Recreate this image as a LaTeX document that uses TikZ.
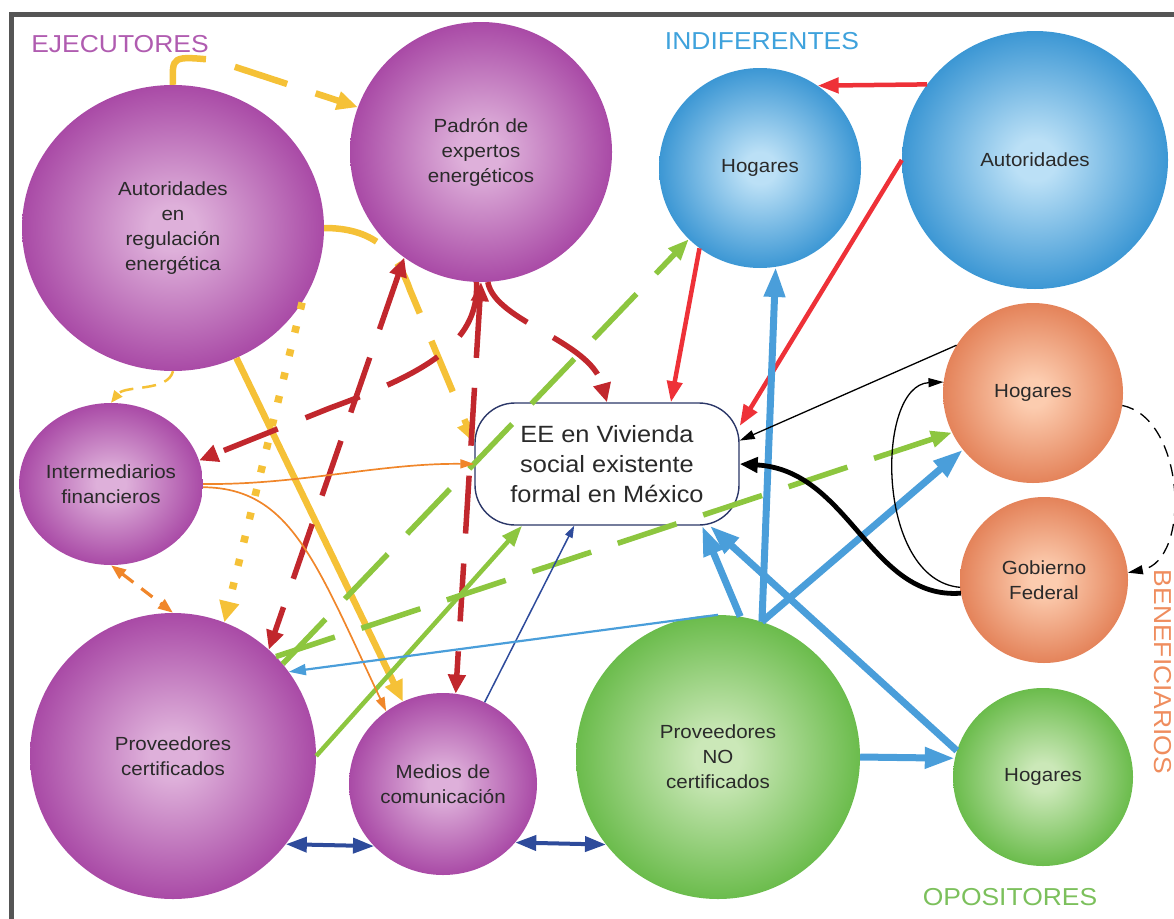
\documentclass[tikz,border=0pt]{standalone}
\usepackage{fontspec}
\setmainfont{Liberation Sans}[FakeStretch=1.08]
\usetikzlibrary{
    arrows.meta,
    shapes.geometric
}
\definecolor{ejePurple}{HTML}{A94AA6}
\definecolor{ejeLight}{HTML}{DEB0DA}
\definecolor{indBlue}{HTML}{3C97D4}
\definecolor{indLight}{HTML}{BBE0F6}
\definecolor{benOrange}{HTML}{E4835A}
\definecolor{benLight}{HTML}{FCCCAF}
\definecolor{opoGreen}{HTML}{6BBC4C}
\definecolor{opoLight}{HTML}{CBE8B8}
\definecolor{lineGold}{HTML}{F5C137}
\definecolor{lineRed}{HTML}{C1272D}
\definecolor{lineScarlet}{HTML}{EE3138}
\definecolor{lineGreen}{HTML}{8DC63F}
\definecolor{lineBlue}{HTML}{4A9EDA}
\definecolor{lineNavy}{HTML}{2E4B9B}
\definecolor{lineOrange}{HTML}{F0862A}
\definecolor{boxNavy}{HTML}{2B3768}
\definecolor{textGray}{HTML}{2A2A2A}
\definecolor{frameGray}{HTML}{555555}
\definecolor{labPurple}{HTML}{B05CB0}
\definecolor{labBlue}{HTML}{3FA2DC}
\definecolor{labOrange}{HTML}{EF8D5E}
\definecolor{labGreen}{HTML}{7CC05C}
% Orb shadings
\pgfdeclareradialshading{ejeorb}{\pgfpoint{0bp}{0bp}}{color(0bp)=(ejeLight); color(4bp)=(ejeLight); color(25bp)=(ejePurple); color(50bp)=(ejePurple)}
\pgfdeclareradialshading{indorb}{\pgfpoint{0bp}{0bp}}{color(0bp)=(indLight); color(4bp)=(indLight); color(25bp)=(indBlue); color(50bp)=(indBlue)}
\pgfdeclareradialshading{benorb}{\pgfpoint{0bp}{0bp}}{color(0bp)=(benLight); color(4bp)=(benLight); color(25bp)=(benOrange); color(50bp)=(benOrange)}
\pgfdeclareradialshading{opoorb}{\pgfpoint{0bp}{0bp}}{color(0bp)=(opoLight); color(4bp)=(opoLight); color(25bp)=(opoGreen); color(50bp)=(opoGreen)}
\tikzset{
    % Circle styles
    orb/.style={
        ellipse,
        inner sep=0pt,
        align=center,
        text=textGray,
        font=\fontsize{19}{25}\selectfont
    },
    orb size/.style 2 args={
        minimum width=#1pt,
        minimum height=#2pt
    },
    ejecutor/.style={orb, shading=ejeorb},
    indiferente/.style={orb, shading=indorb},
    beneficiario/.style={orb, shading=benorb},
    opositor/.style={orb, shading=opoorb},
    % Box styles
    center box/.style={
        draw=boxNavy,
        fill=white,
        line width=1.4pt,
        rounded corners=40pt,
        minimum width=264pt,
        minimum height=122pt,
        align=center,
        text=textGray,
        font=\fontsize{23.5}{30}\selectfont
    },
    group label/.style={
        font=\fontsize{24.5}{28}\selectfont
    },
    frame line/.style={
        frameGray,
        line width=5pt
    },
    % Arrow styles
    gold dash/.style={
        lineGold,
        line width=6.5pt,
        dash pattern=on 55pt off 30pt,
        -{Triangle[length=21pt,width=18pt]}
    },
    gold line/.style={
        lineGold,
        line width=6.5pt,
        -{Triangle[length=21pt,width=18pt]}
    },
    gold dots/.style={
        lineGold,
        line width=7.5pt,
        dash pattern=on 7pt off 17pt,
        -{Triangle[length=21pt,width=19pt]}
    },
    gold thin/.style={
        lineGold,
        line width=2.5pt,
        dash pattern=on 14pt off 9pt,
        -{Triangle[length=12pt,width=10pt]}
    },
    red dash/.style={
        lineRed,
        line width=5.5pt,
        dash pattern=on 58pt off 30pt,
        -{Triangle[length=19pt,width=17pt]}
    },
    red both/.style={
        red dash,
        {Triangle[length=19pt,width=17pt]}-{Triangle[length=19pt,width=17pt]}
    },
    scarlet line/.style={
        lineScarlet,
        line width=4.5pt,
        -{Triangle[length=21pt,width=15pt]}
    },
    green dash/.style={
        lineGreen,
        line width=5.5pt,
        dash pattern=on 62pt off 28pt,
        -{Triangle[length=21pt,width=16pt]}
    },
    green line/.style={
        lineGreen,
        line width=4.5pt,
        -{Triangle[length=21pt,width=15pt]}
    },
    blue line/.style={
        lineBlue,
        line width=7pt,
        -{Triangle[length=30pt,width=20pt]}
    },
    blue thin/.style={
        lineBlue,
        line width=2.2pt,
        -{Triangle[length=17pt,width=11pt]}
    },
    navy thin/.style={
        lineNavy,
        line width=1.5pt,
        -{Triangle[length=12pt,width=8pt]}
    },
    navy both/.style={
        lineNavy,
        line width=4pt,
        {Triangle[length=21pt,width=15pt]}-{Triangle[length=21pt,width=15pt]}
    },
    orange thin/.style={
        lineOrange,
        line width=1.7pt,
        -{Triangle[length=14pt,width=9pt]}
    },
    orange both/.style={
        lineOrange,
        line width=3.2pt,
        dash pattern=on 14pt off 10pt,
        {Triangle[length=15pt,width=11pt]}-{Triangle[length=15pt,width=11pt]}
    },
    black thin/.style={
        black,
        line width=1.3pt,
        -{Triangle[length=15pt,width=9pt]}
    },
    black thick/.style={
        black,
        line width=4.8pt,
        -{Triangle[length=18pt,width=15pt]}
    },
    black dash/.style={
        black thin,
        dash pattern=on 12pt off 8pt
    }
}

\begin{document}
\begin{tikzpicture}[x=1pt, y=-1pt]
        \useasboundingbox (0,0) rectangle (1174,918);
        \clip (0,0) rectangle (1174,918);
        \draw[frame line] (11,940) -- (11,14.5) -- (1190,14.5);

        % Group labels
        \node[group label, labPurple] (ejeLab) at (120,44) {EJECUTORES};
        \node[group label, labBlue] (indLab) at (762,41) {INDIFERENTES};
        \node[group label, labGreen] (opoLab) at (1010,897) {OPOSITORES};
        \node[group label, labOrange, rotate=-90] (benLab) at (1163,672) {BENEFICIARIOS};

        % Define nodes
        \node[ejecutor, orb size={302}{286}] (reg) at (173,228) {Autoridades\\en\\regulación\\energética};
        \node[ejecutor, orb size={262}{260}] (padron) at (481,152) {Padrón de\\expertos\\energéticos};
        \node[ejecutor, orb size={162}{162}] (interm) at (111,484) {Intermediarios\\financieros};
        \node[ejecutor, orb size={286}{286}] (provCert) at (173,756) {Proveedores\\certificados};
        \node[ejecutor, orb size={188}{182}] (medios) at (443,784) {Medios de\\comunicación};
        \node[indiferente, orb size={202}{200}] (hogInd) at (760,168) {Hogares};
        \node[indiferente, orb size={266}{258}] (autInd) at (1035,160) {Autoridades};
        \node[beneficiario, orb size={180}{180}] (hogBen) at (1033,393) {Hogares};
        \node[beneficiario, orb size={168}{166}] (gob) at (1044,580) {Gobierno\\Federal};
        \node[opositor, orb size={284}{284}] (provNo) at (718,757) {Proveedores\\NO\\certificados};
        \node[opositor, orb size={180}{178}] (hogOp) at (1043,777) {Hogares};
        \node[center box] (ee) at (607,464) {EE en Vivienda\\social existente\\formal en México};

        % Ejecutores links
        \draw[gold dash] (reg.north) .. controls (172,56) .. (214,60) -- (padron.160);
        \draw[gold dash] (reg.east) .. controls (372,228) and (396,250) .. (410,290) -- (ee.171);
        \draw[gold line] (reg.-64) -- (medios.116);
        \draw[gold dots] (reg.-30) -- (provCert.69);
        \draw[gold thin] (reg.south) .. controls (168,392) and (125,385) .. (interm.north);

        \draw[red dash] (padron.-87) .. controls (495,322) and (590,340) .. (ee.north);
        \draw[red both] (padron.south) -- (medios.82);
        \draw[red dash] (padron.-92) .. controls (480,345) and (420,375) .. (330,408) -- (interm.15);
        \draw[red both] (padron.-126) -- (provCert.48);

        \draw[green dash] (provCert.40) -- (hogInd.-135);
        \draw[green dash] (provCert.44) -- (hogBen.-154);
        \draw[green line] (provCert.east) -- (ee.-144);

        \draw[orange thin] (interm.east) .. controls (300,485) and (380,463) .. (ee.west);
        \draw[orange thin] (interm.-2) .. controls (290,488) and (315,560) .. (medios.128);
        \draw[orange both] (interm.south) -- (provCert.north);

        \draw[navy thin] (medios.63) -- (ee.-118);
        \draw[navy both] (provCert.-38) -- (medios.-138);
        \draw[navy both] (medios.-39) -- (provNo.-142);

        % Indiferentes links
        \draw[scarlet line] (autInd.145) -- (hogInd.55);
        \draw[scarlet line] (hogInd.-127) -- (ee.44);
        \draw[scarlet line] (autInd.west) -- (ee.16);

        % Opositores links
        \draw[blue thin] (provNo.north) -- (provCert.36);
        \foreach \target in {hogInd.-81, hogBen.-141} {
            \draw[blue line] (provNo.72) -- (\target);
        }
        \draw[blue line] (provNo.81) -- (ee.-33);
        \draw[blue line] (hogOp.163) -- (ee.-31);
        \draw[blue line] (provNo.east) -- (hogOp.168);

        % Beneficiarios links
        \draw[black thin] (hogBen.148) -- (ee.10);
        \draw[black thick] (gob.-171) .. controls (870,600) and (850,470) .. (ee.east);
        \draw[black thin] (gob.-175) .. controls (875,580) and (875,385) .. (hogBen.173);
        \draw[black dash] (hogBen.-8) .. controls (1185,418) and (1192,560) .. (gob.5);
    \end{tikzpicture}
\end{document}
